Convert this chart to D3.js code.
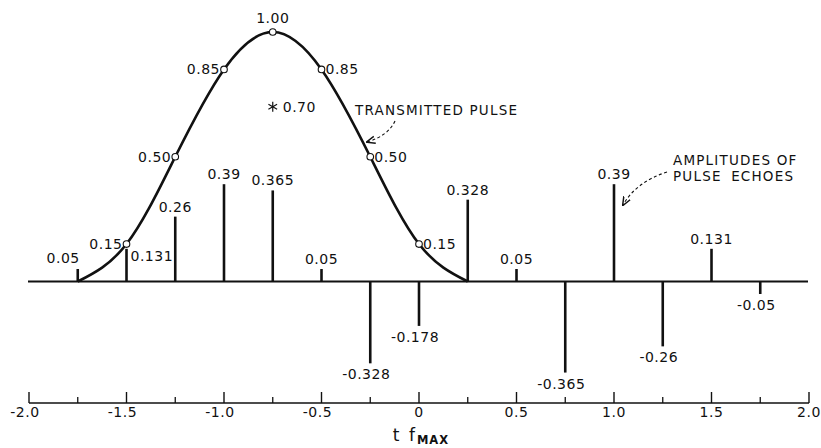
<!DOCTYPE html>
<html><head><meta charset="utf-8">
<script src="https://cdn.jsdelivr.net/npm/d3@7"></script>
<style>
body{margin:0;background:#fff;}
text{font-family:"DejaVu Sans",sans-serif;fill:#111;}
</style></head>
<body><svg id="c" width="821" height="448"></svg>
<script>
// ---- data ----
const echoT = [-1.75,-1.5,-1.25,-1.0,-0.75,-0.5,-0.25,0,0.25,0.5,0.75,1.0,1.25,1.5,1.75];
const echoA = [0.05,0.131,0.26,0.39,0.365,0.05,-0.328,-0.178,0.328,0.05,-0.365,0.39,-0.26,0.131,-0.05];
const echoLabels = ["0.05","0.131","0.26","0.39","0.365","0.05","-0.328","-0.178","0.328","0.05","-0.365","0.39","-0.26","0.131","-0.05"];
const pulseT = [-1.75,-1.5,-1.25,-1.0,-0.75,-0.5,-0.25,0,0.25];
const pulseA = [0,0.15,0.50,0.85,1.00,0.85,0.50,0.15,0];
const pulseLabels = ["","0.15","0.50","0.85","1.00","0.85","0.50","0.15",""];
const starT = -0.75, starA = 0.70, starLabel = "0.70";
const xTicksMajor = [-2.0,-1.5,-1.0,-0.5,0,0.5,1.0,1.5,2.0];
const xTickLabels = ["-2.0","-1.5","-1.0","-0.5","0","0.5","1.0","1.5","2.0"];
const xTicksMinor = [-1.75,-1.25,-0.75,-0.25,0.25,0.75,1.25,1.75];

// ---- drawing ----
const svg = d3.select("#c");
const x = d3.scaleLinear().domain([-2,2]).range([29,809]);
const y = d3.scaleLinear().domain([0,1]).range([281.5,32]);
const FS = 14;

// zero line
svg.append("line").attr("x1",28).attr("x2",808).attr("y1",y(0)).attr("y2",y(0))
  .attr("stroke","#111").attr("stroke-width",1.8);

// bottom axis
const axY = 403;
svg.append("line").attr("x1",x(-2)).attr("x2",x(2)).attr("y1",axY).attr("y2",axY)
  .attr("stroke","#111").attr("stroke-width",1.5);
svg.selectAll(".tM").data(xTicksMajor).enter().append("line")
  .attr("x1",d=>x(d)).attr("x2",d=>x(d)).attr("y1",axY-11).attr("y2",axY)
  .attr("stroke","#111").attr("stroke-width",1.4);
svg.selectAll(".tm").data(xTicksMinor).enter().append("line")
  .attr("x1",d=>x(d)).attr("x2",d=>x(d)).attr("y1",axY-6).attr("y2",axY)
  .attr("stroke","#111").attr("stroke-width",1.3);
svg.selectAll(".tl").data(xTicksMajor).enter().append("text")
  .attr("x",(d,i)=>x(d) + (xTickLabels[i].startsWith("-")?-4:0)).attr("y",axY+14)
  .attr("text-anchor","middle").attr("font-size",FS).attr("letter-spacing",0.6)
  .text((d,i)=>xTickLabels[i]);
const xl = svg.append("text").attr("x",x(0)+2).attr("y",441).attr("text-anchor","middle")
  .attr("font-size",17).attr("letter-spacing",2);
xl.append("tspan").text("t f");
xl.append("tspan").attr("font-size",11.5).attr("font-weight","bold").attr("dy",3).attr("letter-spacing",1).text("MAX");

// echo stems
const echoes = echoT.map((t,i)=>({t,a:echoA[i],lab:echoLabels[i]}));
svg.selectAll(".stem").data(echoes).enter().append("line")
  .attr("x1",d=>x(d.t)).attr("x2",d=>x(d.t)).attr("y1",y(0)).attr("y2",d=>y(d.a))
  .attr("stroke","#111").attr("stroke-width",2.6);
svg.selectAll(".elab").data(echoes).enter().append("text")
  .attr("font-size",FS).attr("letter-spacing",0.5)
  .attr("text-anchor",(d,i)=> i===0 ? "end" : (i===1 ? "start" : "middle"))
  .attr("x",(d,i)=>{
     if(i===0) return x(d.t)+2;
     if(i===1) return x(d.t)+4;
     return x(d.t) + (d.a<0 ? -4 : 0);
  })
  .attr("y",(d,i)=>{
     if(i===0) return y(d.a)-6;
     if(i===1) return y(d.a)+12;
     return d.a<0 ? y(d.a)+16 : y(d.a)-5;
  })
  .text(d=>d.lab);

// pulse curve
const pts = pulseT.map((t,i)=>({t,a:pulseA[i],lab:pulseLabels[i]}));
const line = d3.line().x(d=>x(d.t)).y(d=>y(d.a)).curve(d3.curveNatural);
svg.append("path").attr("d",line(pts)).attr("fill","none").attr("stroke","#111").attr("stroke-width",2.6);
const mk = pts.filter(d=>d.lab!=="");
svg.selectAll(".pc").data(mk).enter().append("circle")
  .attr("cx",d=>x(d.t)).attr("cy",d=>y(d.a)).attr("r",3.3)
  .attr("fill","#fff").attr("stroke","#111").attr("stroke-width",1.1);
svg.selectAll(".pl").data(mk).enter().append("text")
  .attr("font-size",FS).attr("letter-spacing",0.5)
  .attr("text-anchor",d=> d.t< -0.75 ? "end" : (d.t=== -0.75 ? "middle":"start"))
  .attr("x",d=> d.t< -0.75 ? x(d.t)-4 : (d.t=== -0.75 ? x(d.t) : x(d.t)+4))
  .attr("y",d=> d.t=== -0.75 ? y(d.a)-9 : y(d.a)+5)
  .text(d=>d.lab);

// star
const sx = x(starT), sy = y(starA);
[0,60,120].forEach(a=>{
  const r=5, rad=a*Math.PI/180;
  svg.append("line").attr("x1",sx-r*Math.sin(rad)).attr("y1",sy-r*Math.cos(rad))
    .attr("x2",sx+r*Math.sin(rad)).attr("y2",sy+r*Math.cos(rad))
    .attr("stroke","#111").attr("stroke-width",1.2);
});
svg.append("text").attr("x",sx+10).attr("y",sy+5).attr("font-size",FS).attr("letter-spacing",0.5).text(starLabel);

// annotations
svg.append("defs").append("marker").attr("id","ah").attr("viewBox","0 0 10 10")
  .attr("refX",9).attr("refY",5).attr("markerWidth",9).attr("markerHeight",9).attr("orient","auto")
  .attr("markerUnits","userSpaceOnUse")
  .append("path").attr("d","M0,1 L10,5 L0,9").attr("fill","none").attr("stroke","#111").attr("stroke-width",1.6);

svg.append("text").attr("x",355).attr("y",115).attr("font-size",13.5).attr("letter-spacing",1.2).text("TRANSMITTED PULSE");
svg.append("path").attr("d","M395,121 Q388,136 367,142").attr("fill","none").attr("stroke","#111")
  .attr("stroke-width",1.1).attr("stroke-dasharray","3,2.5").attr("marker-end","url(#ah)");

svg.append("text").attr("x",673).attr("y",165).attr("font-size",13.5).attr("letter-spacing",1.2).text("AMPLITUDES OF");
svg.append("text").attr("x",673).attr("y",181).attr("font-size",13.5).attr("letter-spacing",1.2).attr("word-spacing",4).text("PULSE ECHOES");
svg.append("path").attr("d","M667,172 Q636,182 623,205").attr("fill","none").attr("stroke","#111")
  .attr("stroke-width",1.1).attr("stroke-dasharray","3,2.5").attr("marker-end","url(#ah)");
</script></body></html>
